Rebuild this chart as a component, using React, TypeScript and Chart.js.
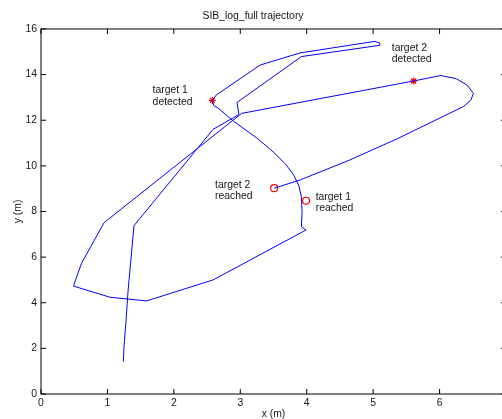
import React, { useEffect, useRef } from "react";
import { Chart, registerables } from "chart.js";

Chart.register(...registerables);

// Trajectory (x, y in metres), in travel order
const pathX = [
  1.24, 1.25, 1.28, 1.31, 1.40, 2.59, 2.98, 2.95, 3.92, 5.09, 5.10, 5.03, 3.90, 3.30, 2.64,
  2.58, 2.60, 2.68, 2.90, 3.25, 3.50, 3.68, 3.80, 3.88, 3.92, 3.93, 3.92, 3.99, 2.59, 1.59, 1.04, 0.49,
  0.52, 0.61, 0.95, 3.02, 5.61, 6.02, 6.25, 6.41, 6.51, 6.47, 6.36, 5.35, 4.65, 3.90, 3.51,
];
const pathY = [
  1.42, 2.10, 3.20, 4.50, 7.38, 11.60, 12.25, 12.78, 14.79, 15.28, 15.38, 15.46, 14.95, 14.42, 13.11,
  12.87, 12.65, 12.50, 11.95, 11.22, 10.60, 10.08, 9.62, 9.15, 8.65, 8.00, 7.33, 7.19, 5.00, 4.08, 4.24, 4.73,
  5.00, 5.73, 7.51, 12.30, 13.72, 13.96, 13.82, 13.55, 13.18, 12.88, 12.60, 11.17, 10.26, 9.38, 9.02,
];

// Targets detected (stars) and reached (circles)
const detectedX = [2.58, 5.61];
const detectedY = [12.87, 13.72];
const reachedX = [3.99, 3.51];
const reachedY = [8.47, 9.02];

// Text annotations (anchor = left edge, first line centre)
const noteLines = [
  ["target 1", "detected"],
  ["target 2", "detected"],
  ["target 2", "reached"],
  ["target 1", "reached"],
];
const noteX = [1.68, 5.28, 2.62, 4.135];
const noteY = [13.3, 15.18, 9.16, 8.65];

const xTicks = [0, 1, 2, 3, 4, 5, 6, 7];
const yTicks = [0, 2, 4, 6, 8, 10, 12, 14, 16];

const titleText = "SIB_log_full trajectory";
const xTitle = "x (m)";
const yTitle = "y (m)";

const FONT = "'Liberation Sans', Arial, Helvetica, sans-serif";
const FS = 10.4;
const TXT = "#161616";

const framePlugin = {
  id: "frameAndNotes",
  afterDraw(chart: any) {
    const { ctx, chartArea: a, scales } = chart;
    const x = scales.x;
    const y = scales.y;
    ctx.save();
    ctx.fillStyle = TXT;
    ctx.font = `${FS}px ${FONT}`;
    ctx.textBaseline = "middle";
    ctx.textAlign = "left";
    noteLines.forEach((lines, i) => {
      const px = x.getPixelForValue(noteX[i]);
      const py = y.getPixelForValue(noteY[i]);
      lines.forEach((t, j) => ctx.fillText(t, px, py + j * 11.5));
    });
    ctx.strokeStyle = "#000";
    ctx.lineWidth = 1;
    ctx.strokeRect(a.left, a.top, a.right - a.left, a.bottom - a.top);
    ctx.beginPath();
    const tl = 5;
    for (const v of xTicks) {
      const px = x.getPixelForValue(v);
      ctx.moveTo(px, a.bottom);
      ctx.lineTo(px, a.bottom - tl);
      ctx.moveTo(px, a.top);
      ctx.lineTo(px, a.top + tl);
    }
    for (const v of yTicks) {
      const py = y.getPixelForValue(v);
      ctx.moveTo(a.left, py);
      ctx.lineTo(a.left + tl, py);
      ctx.moveTo(a.right, py);
      ctx.lineTo(a.right - tl, py);
    }
    ctx.stroke();
    ctx.restore();
  },
};

export default function App() {
  const ref = useRef<HTMLCanvasElement | null>(null);

  useEffect(() => {
    if (!ref.current) return;
    const path = pathX.map((v, i) => ({ x: v, y: pathY[i] }));
    const det = detectedX.map((v, i) => ({ x: v, y: detectedY[i] }));
    const rea = reachedX.map((v, i) => ({ x: v, y: reachedY[i] }));

    const chart = new Chart(ref.current, {
      type: "scatter",
      data: {
        datasets: [
          {
            data: path,
            showLine: true,
            borderColor: "#0000ff",
            borderWidth: 1,
            pointRadius: 0,
            tension: 0,
            fill: false,
          },
          {
            data: det,
            showLine: false,
            pointStyle: "star",
            pointRadius: 3.5,
            borderColor: "#ff0000",
            backgroundColor: "#ff0000",
            pointBorderWidth: 1.2,
          },
          {
            data: rea,
            showLine: false,
            pointStyle: "circle",
            pointRadius: 3.5,
            borderColor: "#ff0000",
            backgroundColor: "rgba(0,0,0,0)",
            pointBorderWidth: 1.2,
          },
        ],
      } as any,
      options: {
        animation: false,
        responsive: false,
        devicePixelRatio: 1,
        layout: { padding: { left: 0, right: 6, top: 0, bottom: 0 } },
        plugins: {
          legend: { display: false },
          tooltip: { enabled: false },
          title: {
            display: true,
            text: titleText,
            color: TXT,
            font: { family: FONT, size: FS, weight: "normal" },
            padding: { top: 10, bottom: 6.5 },
          },
        },
        scales: {
          x: {
            type: "linear",
            min: 0,
            max: 7,
            grid: { display: false, drawTicks: false },
            border: { display: false },
            afterBuildTicks: (s: any) => {
              s.ticks = xTicks.map((v) => ({ value: v }));
            },
            afterFit: (s: any) => {
              s.height = 36;
            },
            ticks: {
              color: TXT,
              font: { family: FONT, size: FS },
              padding: 3,
              maxRotation: 0,
              autoSkip: false,
            },
            title: {
              display: true,
              text: xTitle,
              color: TXT,
              font: { family: FONT, size: FS },
              padding: { top: 0, bottom: 10 },
            },
          },
          y: {
            type: "linear",
            min: 0,
            max: 16,
            grid: { display: false, drawTicks: false },
            border: { display: false },
            afterBuildTicks: (s: any) => {
              s.ticks = yTicks.map((v) => ({ value: v }));
            },
            afterFit: (s: any) => {
              s.width = 41;
            },
            ticks: {
              color: TXT,
              font: { family: FONT, size: FS },
              padding: 4,
              autoSkip: false,
            },
            title: {
              display: true,
              text: yTitle,
              color: TXT,
              font: { family: FONT, size: FS },
              padding: { top: 11.5, bottom: 0 },
            },
          },
        },
      } as any,
      plugins: [framePlugin],
    });
    return () => chart.destroy();
  }, []);

  return (
    <div
      style={{
        position: "fixed",
        left: 0,
        top: 0,
        width: 502,
        height: 419,
        overflow: "hidden",
        background: "#fff",
      }}
    >
      <canvas ref={ref} width={512} height={430} style={{ display: "block" }} />
    </div>
  );
}
